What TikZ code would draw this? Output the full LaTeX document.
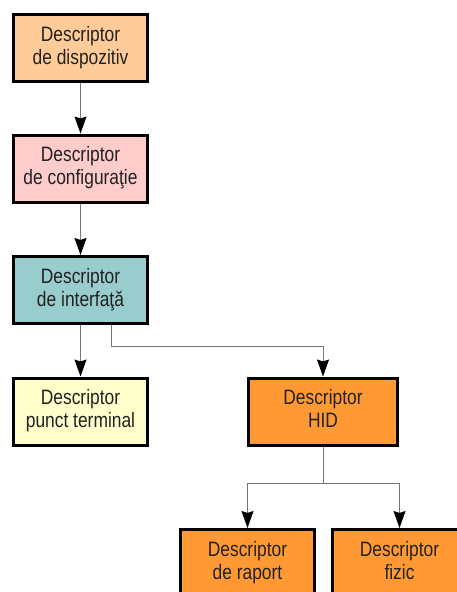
\documentclass[tikz,border=0pt]{standalone}
\usepackage{fontspec}
\setmainfont{Liberation Sans}
\usetikzlibrary{arrows.meta,calc}
\definecolor{peach}{HTML}{FFCC99}
\definecolor{rose}{HTML}{FFCCCC}
\definecolor{teal}{HTML}{99CCCC}
\definecolor{cream}{HTML}{FFFFCC}
\definecolor{hidorange}{HTML}{FF9933}
\definecolor{txt}{HTML}{222222}
\definecolor{wire}{HTML}{777777}
\newcommand{\desc}[2]{\scalebox{1}[1.2]{\fontsize{17.4}{19.2}\selectfont\begin{tabular}{@{}c@{}}#1\\#2\end{tabular}}}
\tikzset{
  descbox/.style={draw=black, line width=3pt, rectangle, minimum width=134pt,
    minimum height=67pt, inner sep=0pt, text=txt, align=center},
  link/.style={draw=wire, line width=1pt,
    -{Stealth[color=black, length=17pt, width=12pt, inset=2pt]}},
  plainlink/.style={draw=wire, line width=1pt}
}
\begin{document}
\begin{tikzpicture}[x=1pt, y=-1pt]
  \useasboundingbox (0,0) rectangle (457,592);
  \clip (0,0) rectangle (457,592);
  \fill[white] (0,0) rectangle (457,592);

  % descriptor hierarchy boxes
  \node[descbox, fill=peach] (dev) at (80.5,48) {\desc{Descriptor}{de dispozitiv}};
  \node[descbox, fill=rose] (cfg) at (80.5,168.5) {\desc{Descriptor}{de configuraţie}};
  \node[descbox, fill=teal] (ifc) at (80.5,290) {\desc{Descriptor}{de interfaţă}};
  \node[descbox, fill=cream] (ep) at (80.5,411.5) {\desc{Descriptor}{punct terminal}};
  \node[descbox, fill=hidorange, minimum width=149pt] (hid) at (323,411.5) {\desc{Descriptor}{HID}};
  \node[descbox, fill=hidorange] (rep) at (247.5,563) {\desc{Descriptor}{de raport}};
  \node[descbox, fill=hidorange] (phy) at (399.5,563) {\desc{Descriptor}{fizic}};

  % junction points of the branching wires
  \coordinate (j1) at (111,346);
  \coordinate (j2) at (323,483);

  % connectors
  \draw[link] (dev.south) -- (cfg.north);
  \draw[link] (cfg.south) -- (ifc.north);
  \draw[link] (ifc.south) -- (ep.north);
  \draw[link] (ifc.south -| j1) -- (j1) -| (hid.north);
  \draw[plainlink] (hid.south) -- (j2);
  \draw[link] (j2) -| (rep.north);
  \draw[link] (j2) -| (phy.north);
\end{tikzpicture}
\end{document}
